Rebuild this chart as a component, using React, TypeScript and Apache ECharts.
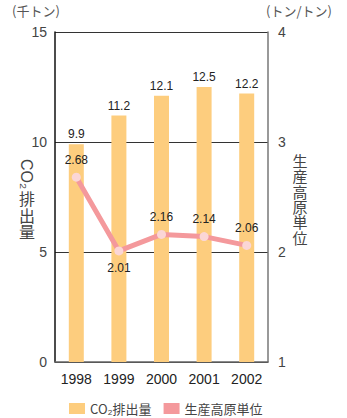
import React, { useEffect, useRef } from "react";
import * as echarts from "echarts";

const years = ["1998", "1999", "2000", "2001", "2002"];
const co2 = [9.9, 11.2, 12.1, 12.5, 12.2];
const unit = [2.68, 2.01, 2.16, 2.14, 2.06];
const leftTicks = [0, 5, 10, 15];
const rightTicks = [1, 2, 3, 4];
const leftNameChars = ["排", "出", "量"];
const rightNameChars = ["生", "産", "高", "原", "単", "位"];

const FONT = "'Liberation Sans', 'Noto Sans CJK JP', sans-serif";
const JP = "'Noto Sans CJK JP', 'Liberation Sans', sans-serif";

export default function App() {
  const ref = useRef<HTMLDivElement>(null);
  useEffect(() => {
    if (!ref.current) return;
    document.body.style.margin = "0";
    const chart = echarts.init(ref.current, undefined, { renderer: "svg" });
    const vchars = (chars: string[], cx: number, y0: number, step: number, size: number) =>
      chars.map((c, i) => ({
        type: "text",
        x: cx,
        y: y0 + i * step,
        style: {
          text: c,
          fontSize: size,
          lineHeight: size,
          fill: "#444",
          fontFamily: JP,
          align: "center",
          verticalAlign: "top",
        },
      }));
    chart.setOption({
      animation: false,
      textStyle: { fontFamily: FONT },
      grid: { left: 55, right: 79, top: 32, bottom: 56 },
      legend: {
        left: 69,
        top: 402,
        padding: 0,
        itemWidth: 16,
        itemHeight: 11,
        itemGap: 12,
        textStyle: { fontFamily: JP, fontSize: 13, color: "#444" },
        data: [
          { name: "CO₂排出量", icon: "rect", itemStyle: { color: "#FDCD7E" } },
          { name: "生産高原単位", icon: "rect", itemStyle: { color: "#F4999C" } },
        ],
      },
      xAxis: {
        type: "category",
        data: years,
        axisLine: { lineStyle: { color: "#666", width: 1.5 } },
        axisTick: { show: false },
        axisLabel: { fontSize: 14, color: "#222", margin: 10, fontFamily: FONT },
      },
      yAxis: [
        {
          type: "value",
          min: leftTicks[0],
          max: leftTicks[leftTicks.length - 1],
          interval: 5,
          axisLine: { show: true, lineStyle: { color: "#111", width: 1.5 } },
          axisTick: { show: false },
          axisLabel: { fontSize: 14, color: "#444", margin: 8, fontFamily: FONT },
          splitLine: { show: true, lineStyle: { color: "#333", width: 1 } },
        },
        {
          type: "value",
          min: rightTicks[0],
          max: rightTicks[rightTicks.length - 1],
          interval: 1,
          position: "right",
          axisLine: { show: true, lineStyle: { color: "#777", width: 1.5 } },
          axisTick: { show: false },
          axisLabel: { fontSize: 14, color: "#444", margin: 10, fontFamily: FONT },
          splitLine: { show: false },
        },
      ],
      series: [
        {
          name: "CO₂排出量",
          type: "bar",
          data: co2,
          barWidth: 15,
          itemStyle: { color: "#FDCD7E" },
          label: {
            show: true,
            position: "top",
            distance: 4,
            fontSize: 12,
            color: "#222",
            fontFamily: FONT,
          },
        },
        {
          name: "生産高原単位",
          type: "line",
          yAxisIndex: 1,
          data: unit.map((v, i) => ({
            value: v,
            label: { position: i === 1 ? "bottom" : "top" },
          })),
          symbol: "circle",
          symbolSize: 9,
          lineStyle: { color: "#F4999C", width: 5 },
          itemStyle: { color: "#FBD6D6" },
          label: {
            show: true,
            position: "top",
            distance: 7,
            fontSize: 12,
            color: "#222",
            fontFamily: FONT,
          },
          z: 5,
        },
      ],
      graphic: [
        {
          type: "text",
          left: 12,
          top: 4,
          style: { text: "(千トン)", fontSize: 13, fill: "#555", fontFamily: JP },
        },
        {
          type: "text",
          left: 266,
          top: 4,
          style: { text: "(トン/トン)", fontSize: 13, fill: "#555", fontFamily: JP },
        },
        {
          type: "text",
          x: 35,
          y: 159,
          rotation: -Math.PI / 2,
          style: { text: "CO₂", fontSize: 16, fill: "#444", fontFamily: FONT },
        },
        ...vchars(leftNameChars, 27, 190, 16.5, 16),
        ...vchars(rightNameChars, 300, 153, 15.3, 15),
      ],
    });
    return () => chart.dispose();
  }, []);
  return <div ref={ref} style={{ width: 347, height: 418 }} />;
}
